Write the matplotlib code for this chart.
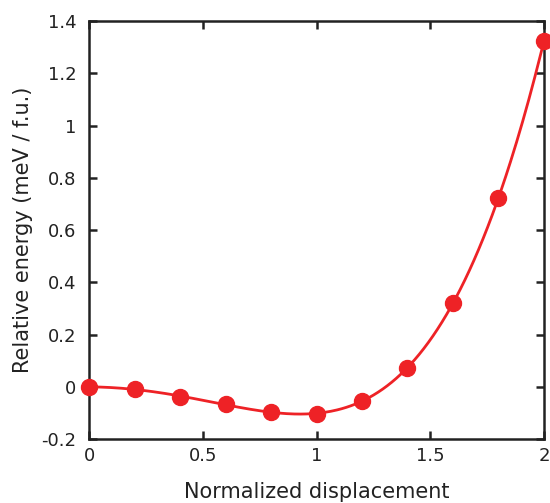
import numpy as np
import matplotlib
matplotlib.use("Agg")
import matplotlib.pyplot as plt

plt.rcParams['font.family'] = ['DejaVu Sans']

# displacement vs relative energy
displacement = [0.0, 0.2, 0.4, 0.6, 0.8, 1.0, 1.2, 1.4, 1.6, 1.8, 2.0]
energy = [0.0, -0.009, -0.037, -0.066, -0.098, -0.102, -0.054, 0.074, 0.32, 0.724, 1.324]

red = '#ee2226'

fig = plt.figure(figsize=(5.5, 5.03), dpi=100)
ax = fig.add_axes([0.162, 0.127, 0.827, 0.831])

# smooth guide line through the points
coef = np.polyfit(displacement, energy, 6)
xs = np.linspace(0, 2, 300)
ax.plot(xs, np.polyval(coef, xs), color=red, lw=2.0, zorder=2)
ax.plot(displacement, energy, 'o', color=red, ms=11.5, zorder=3, clip_on=False)

ax.set_xlim(0, 2)
ax.set_ylim(-0.2, 1.4)
ax.set_xticks([0, 0.5, 1, 1.5, 2])
ax.set_xticklabels(['0', '0.5', '1', '1.5', '2'])
ax.set_yticks(np.arange(-0.2, 1.41, 0.2))
ax.set_yticklabels(['-0.2', '0', '0.2', '0.4', '0.6', '0.8', '1', '1.2', '1.4'])

ax.tick_params(direction='in', length=6, width=1.8, labelsize=13, color='#222222',
               labelcolor='#222222', top=True, right=True, pad=6)
ax.tick_params(axis='y', pad=9)
for s in ax.spines.values():
    s.set_linewidth(1.8)
    s.set_color('#222222')

ax.set_xlabel('Normalized displacement', fontsize=15, labelpad=12, color='#222222')
ax.set_ylabel('Relative energy (meV / f.u.)', fontsize=15, labelpad=6, color='#222222')

fig.savefig('out.png', dpi=100)
